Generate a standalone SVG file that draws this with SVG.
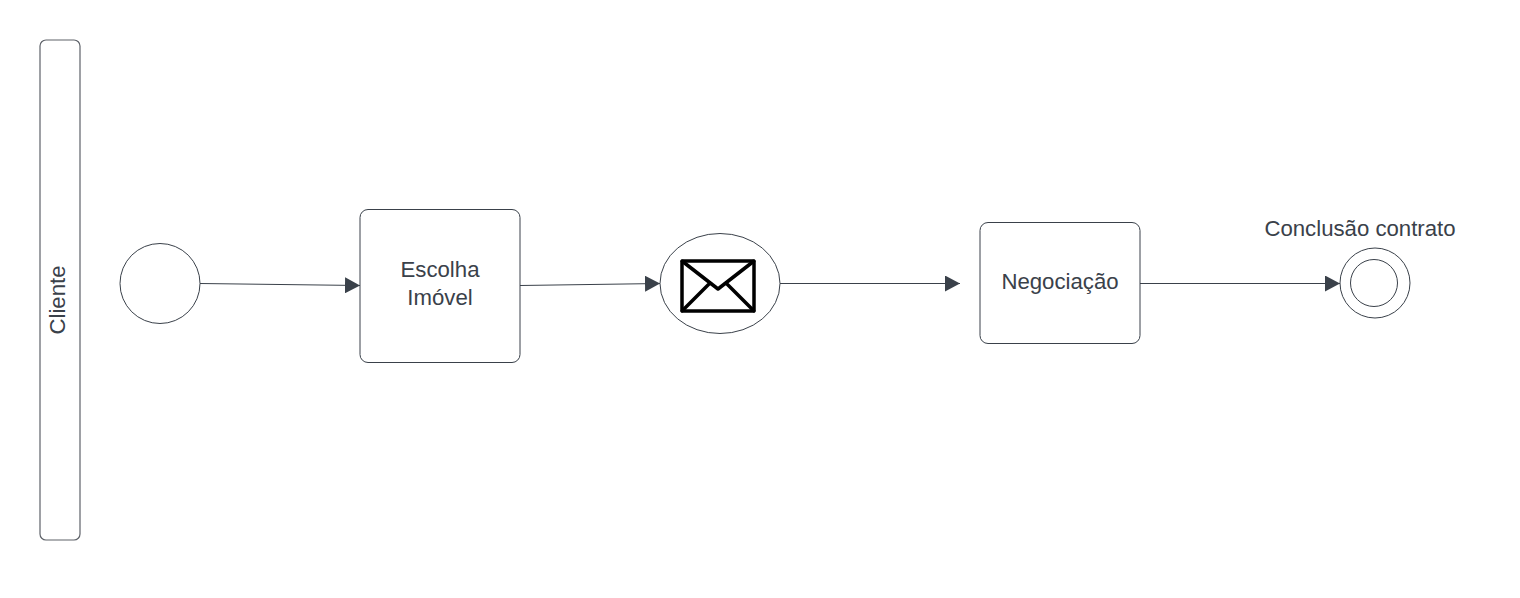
<svg xmlns="http://www.w3.org/2000/svg" width="1520" height="598" viewBox="0 0 1520 598">
<style>
.s{fill:#fff;stroke:#3a414a;stroke-width:1}
.pool{fill:#fff;stroke:#5e6269;stroke-width:1.200}
.t{font-family:"Liberation Sans",Arial,sans-serif;font-size:22.200px;fill:#3a414a;text-anchor:middle}
.c{fill:none;stroke:#3a414a;stroke-width:1;marker-end:url(#a)}
</style>
<defs>
<marker id="a" markerUnits="userSpaceOnUse" markerWidth="16" markerHeight="16" refX="15" refY="8" orient="auto"><path d="M0 0L15 8L0 16Z" fill="#3a414a"/></marker>
</defs>
<rect width="1520" height="598" fill="#fff"/>
<g id="connectors">
<path class="c" d="M200 283.500L360 285.500"/>
<path class="c" d="M520 285.500L660 283.500"/>
<path class="c" d="M780 283.500H960"/>
<path class="c" d="M1140 283.500H1340"/>
</g>
<g id="pool"><rect class="pool" x="40" y="40" width="40" height="500" rx="6"/><text class="t" transform="translate(65,300) rotate(-90)">Cliente</text></g>
<g id="start"><circle class="s" cx="160" cy="283.500" r="40"/></g>
<g id="escolha"><rect class="s" x="360" y="209.500" width="160" height="153" rx="8"/><text class="t" x="440" y="276.500">Escolha</text><text class="t" x="440" y="304.500">Imóvel</text></g>
<g id="message"><ellipse class="s" cx="720" cy="283.500" rx="60" ry="50"/>
<g fill="none" stroke="#000" stroke-width="3.500" stroke-linejoin="round" stroke-linecap="round"><rect x="682" y="261" width="72" height="50" rx="1.500"/><path d="M682 261L718 289L754 261M682 311L710 283M754 311L726 283"/></g></g>
<g id="negociacao"><rect class="s" x="980" y="222.500" width="160" height="121" rx="8"/><text class="t" x="1060" y="288.500">Negociação</text></g>
<g id="end"><circle class="s" cx="1375" cy="283" r="35"/><circle class="s" cx="1374" cy="283" r="23.500"/><text class="t" x="1360" y="235.500">Conclusão contrato</text></g>
</svg>
